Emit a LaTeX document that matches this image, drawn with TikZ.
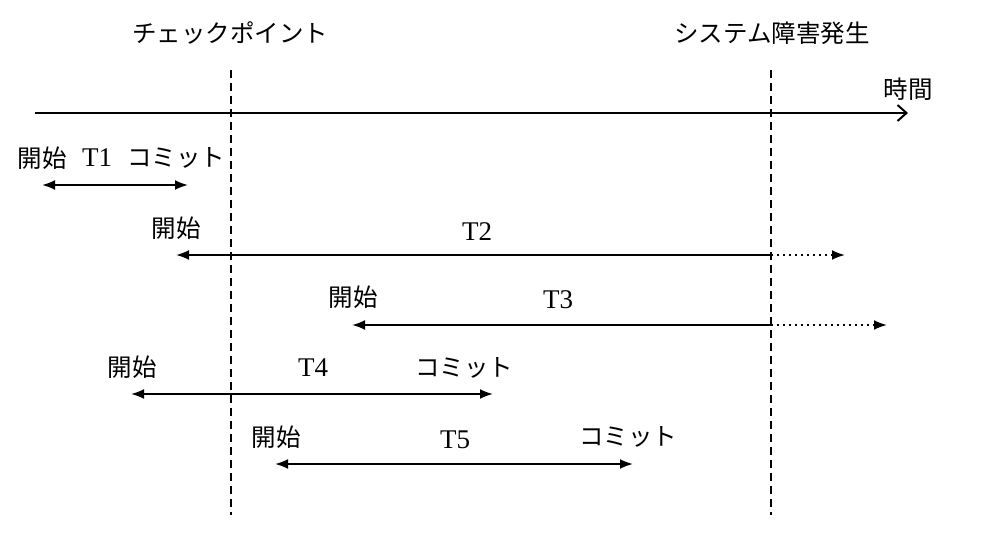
\documentclass[tikz,border=0pt]{standalone}
\usepackage{fontspec}
\newfontfamily\jp{Noto Sans CJK JP}
\newfontfamily\lat{Liberation Serif}
\usetikzlibrary{arrows.meta}
\begin{document}
\begin{tikzpicture}[x=1pt,y=-1pt,
  jt/.style={font=\jp\fontsize{24.5}{26}\selectfont, inner sep=0pt, anchor=center},
  lt/.style={font=\lat\fontsize{27}{29}\selectfont, inner sep=0pt, anchor=center},
  guide/.style={line width=1.8pt, dash pattern=on 8pt off 5pt},
  axis/.style={line width=2pt, -{Straight Barb[length=9pt,width=16pt,line width=2pt]}},
  tx/.style={line width=2pt, {Latex[length=13pt,width=10pt]}-{Latex[length=13pt,width=10pt]}},
  txl/.style={line width=2pt, {Latex[length=13pt,width=10pt]}-},
  cont/.style={line width=2pt, dash pattern=on 2pt off 4pt, -{Latex[length=13pt,width=10pt]}}]
\useasboundingbox[fill=white] (0,0) rectangle (984,536);
% headings
\node[jt] (cp) at (230,33) {チェックポイント};
\node[jt] (sf) at (772,33) {システム障害発生};
\node[jt] (time) at (908,89) {時間};
% guide lines
\coordinate (cpT) at (231,70); \coordinate (cpB) at (231,515);
\coordinate (sfT) at (771,70); \coordinate (sfB) at (771,515);
\draw[guide] (cpT) -- (cpB);
\draw[guide] (sfT) -- (sfB);
% time axis
\coordinate (ax0) at (35,113); \coordinate (ax1) at (908,113);
\draw[axis] (ax0) -- (ax1);
% T1
\node[jt] (s1) at (42,158) {開始};
\node[lt] (t1) at (97,158) {T1};
\node[jt] (c1) at (176,158) {コミット};
\coordinate (a1) at (42,185); \coordinate (b1) at (188,185);
\draw[tx] (a1) -- (b1);
% T2
\node[jt] (s2) at (176,228) {開始};
\node[lt] (t2) at (477,232) {T2};
\coordinate (a2) at (176,255); \coordinate (m2) at (771,255); \coordinate (e2) at (845,255);
\draw[txl] (a2) -- (m2);
\draw[cont] (m2) -- (e2);
% T3
\node[jt] (s3) at (353,297) {開始};
\node[lt] (t3) at (558,300) {T3};
\coordinate (a3) at (352,325); \coordinate (m3) at (771,325); \coordinate (e3) at (887,325);
\draw[txl] (a3) -- (m3);
\draw[cont] (m3) -- (e3);
% T4
\node[jt] (s4) at (132,367) {開始};
\node[lt] (t4) at (313,368) {T4};
\node[jt] (c4) at (464,368) {コミット};
\coordinate (a4) at (131,394); \coordinate (b4) at (493,394);
\draw[tx] (a4) -- (b4);
% T5
\node[jt] (s5) at (276,437) {開始};
\node[lt] (t5) at (455,440) {T5};
\node[jt] (c5) at (628,437) {コミット};
\coordinate (a5) at (275,464); \coordinate (b5) at (633,464);
\draw[tx] (a5) -- (b5);
\end{tikzpicture}
\end{document}
